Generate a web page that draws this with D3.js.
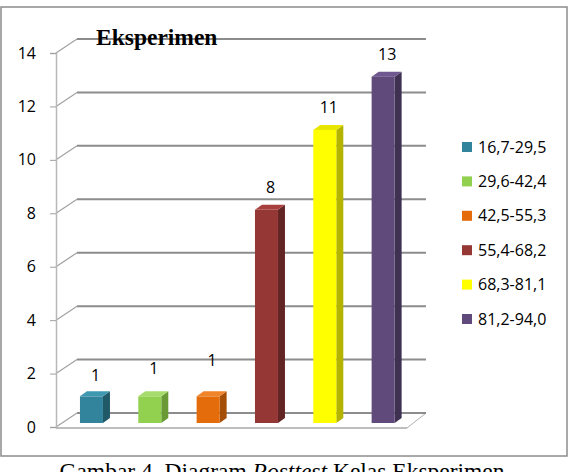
<!DOCTYPE html>
<html>
<head>
<meta charset="utf-8">
<script src="https://cdn.jsdelivr.net/npm/d3@7/dist/d3.min.js"></script>
<style>
  body { margin: 0; background: #fff; }
  svg { display: block; }
</style>
</head>
<body>
<div id="chart"></div>
<script>
// data
var categories = ["16,7-29,5", "29,6-42,4", "42,5-55,3", "55,4-68,2", "68,3-81,1", "81,2-94,0"];
var values = [1, 1, 1, 8, 11, 13];
var yTicks = [0, 2, 4, 6, 8, 10, 12, 14];
var frontColors = ["#31849b", "#92d050", "#e46c0a", "#953735", "#ffff00", "#604a7b"];
var sideColors = ["#215968", "#6a9a36", "#a54e07", "#632523", "#b3b300", "#3f3151"];
var topColors = ["#3d98b0", "#a6dc6c", "#f0842a", "#a8403e", "#e6e600", "#6f5890"];

var w = 577, h = 472;
var depthX = 21, depthY = -14;   // back wall offset
var barDX = 7, barDY = -5;       // bar side depth
var barW = 23;

var svg = d3.select("#chart").append("svg")
  .attr("width", w)
  .attr("height", h);

// outer frame
svg.append("rect")
  .attr("x", 1).attr("y", 7)
  .attr("width", 566).attr("height", 449)
  .attr("fill", "#fff")
  .attr("stroke", "#8c8c8c")
  .attr("stroke-width", 1.5);

var y = d3.scaleLinear().domain([0, 14]).range([427, 53]);
var yBar = d3.scaleLinear().domain([0, 14]).range([423, 50]);
var x = d3.scalePoint().domain(d3.range(categories.length)).range([62.3, 412.3]).padding(0.5);

var left = 56, right = 407;

// floor
svg.append("path")
  .attr("d", "M" + right + "," + (y(0) + 1) +
    "L" + (right + depthX - 2) + "," + (y(0) + depthY))
  .attr("fill", "none")
  .attr("stroke", "#b0b0b0")
  .attr("stroke-width", 1);

// back wall gridlines + side wall diagonals
var grid = svg.append("g");
grid.selectAll("line.g")
  .data(yTicks)
  .enter()
  .append("line")
    .attr("class", "g")
    .attr("x1", left + depthX)
    .attr("x2", right + depthX - 2)
    .attr("y1", function(d) { return y(d) + depthY; })
    .attr("y2", function(d) { return y(d) + depthY; })
    .attr("stroke", "#8c8c8c")
    .attr("stroke-width", 2);

grid.selectAll("line.d")
  .data(yTicks)
  .enter()
  .append("line")
    .attr("class", "d")
    .attr("x1", left)
    .attr("x2", left + depthX)
    .attr("y1", function(d) { return y(d); })
    .attr("y2", function(d) { return y(d) + depthY; })
    .attr("stroke", "#a0a0a0")
    .attr("stroke-width", 1.2);

// vertical axis
var axis = d3.axisLeft(y).tickValues(yTicks).tickSize(6).tickPadding(14);
var ax = svg.append("g")
  .attr("transform", "translate(" + left + ",0)")
  .call(axis);
ax.select(".domain").attr("stroke", "#b8b8b8").attr("stroke-width", 1.5);
ax.selectAll(".tick line").attr("stroke", "#a0a0a0");
ax.selectAll(".tick text")
  .attr("fill", "#000")
  .attr("font-family", "'Open Sans', sans-serif")
  .attr("font-size", 16);

// front floor edge
svg.append("line")
  .attr("x1", left).attr("x2", right)
  .attr("y1", y(0) + 1).attr("y2", y(0) + 1)
  .attr("stroke", "#a8a8a8").attr("stroke-width", 1.5);

// 3D bars
var bars = svg.selectAll("g.bar")
  .data(values)
  .enter()
  .append("g")
    .attr("class", "bar");

bars.append("path")
  .attr("d", function(d, i) {
    var x0 = x(i) + barW / 2, yt = yBar(d), yb = yBar(0);
    return "M" + x0 + "," + yt + "L" + (x0 + barDX) + "," + (yt + barDY) +
      "L" + (x0 + barDX) + "," + (yb + barDY) + "L" + x0 + "," + yb + "Z";
  })
  .attr("fill", function(d, i) { return sideColors[i]; });

bars.append("path")
  .attr("d", function(d, i) {
    var x0 = x(i) - barW / 2, yt = yBar(d);
    return "M" + x0 + "," + yt + "L" + (x0 + barDX) + "," + (yt + barDY) +
      "L" + (x0 + barW + barDX) + "," + (yt + barDY) + "L" + (x0 + barW) + "," + yt + "Z";
  })
  .attr("fill", function(d, i) { return topColors[i]; });

bars.append("rect")
  .attr("x", function(d, i) { return x(i) - barW / 2; })
  .attr("y", function(d) { return yBar(d); })
  .attr("width", barW)
  .attr("height", function(d) { return yBar(0) - yBar(d); })
  .attr("fill", function(d, i) { return frontColors[i]; });

// value labels
svg.selectAll("text.val")
  .data(values)
  .enter()
  .append("text")
    .attr("class", "val")
    .text(function(d) { return d; })
    .attr("text-anchor", "middle")
    .attr("x", function(d, i) { return x(i) + 4; })
    .attr("y", function(d, i) { return yBar(d) - 14 - (d === 1 ? 1 + i * 7.5 : 3); })
    .attr("font-family", "'Open Sans', sans-serif")
    .attr("font-size", 16)
    .attr("fill", "#000");

// title
svg.append("text")
  .text("Eksperimen")
  .attr("x", 96).attr("y", 45)
  .attr("font-family", "'Liberation Serif', 'Times New Roman', serif")
  .attr("font-weight", "bold")
  .attr("font-size", 23.5)
  .attr("fill", "#000");

// legend
var legend = svg.selectAll("g.leg")
  .data(categories)
  .enter()
  .append("g")
    .attr("class", "leg")
    .attr("transform", function(d, i) { return "translate(462," + (147 + i * 34.4) + ")"; });

legend.append("rect")
  .attr("x", 0).attr("y", -5)
  .attr("width", 10).attr("height", 10)
  .attr("fill", function(d, i) { return frontColors[i]; });

legend.append("text")
  .text(function(d) { return d; })
  .attr("x", 16).attr("y", 5.5)
  .attr("font-family", "'Open Sans', sans-serif")
  .attr("font-size", 16)
  .attr("fill", "#000");

// caption (cut by the bottom edge, as in the source image)
var cap = svg.append("text")
  .attr("x", 282).attr("y", 479)
  .attr("text-anchor", "middle")
  .attr("font-family", "'Liberation Serif', 'Times New Roman', serif")
  .attr("font-size", 23.5)
  .attr("fill", "#000");
cap.append("tspan").text("Gambar 4. Diagram ");
cap.append("tspan").attr("font-style", "italic").text("Posttest");
cap.append("tspan").text(" Kelas Eksperimen");
</script>
</body>
</html>
